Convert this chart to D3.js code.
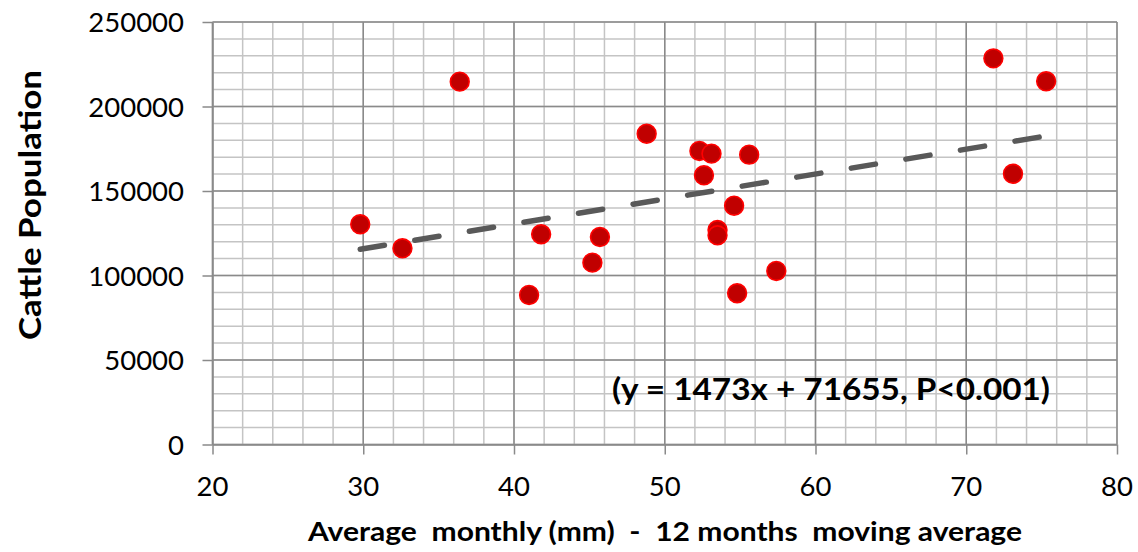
<!DOCTYPE html>
<html>
<head>
<meta charset="utf-8">
<script src="https://cdn.jsdelivr.net/npm/d3@7"></script>
<style>
  html, body { margin: 0; padding: 0; background: #fff; }
  svg { display: block; font-family: Lato, "Open Sans", sans-serif; }
</style>
</head>
<body>
<svg id="chart" width="1138" height="552"></svg>
<script>
// Rainfall (12-month moving average, mm) against cattle population
const rainfall = [29.8, 32.6, 36.4, 41.0, 41.8, 45.2, 45.7, 48.8, 52.3, 52.6,
                  53.1, 53.5, 53.5, 54.6, 54.8, 55.6, 57.4, 71.8, 73.1, 75.3];
const cattle   = [130300, 116100, 214700, 88500, 124400, 107600, 122800, 183900, 173700, 159300,
                  172100, 126900, 123800, 141300, 89500, 171500, 102700, 228500, 160200, 214900];

// Linear fit reported on the chart
const slope = 1473;
const intercept = 71655;

const xTicks = [20, 30, 40, 50, 60, 70, 80];
const yTicks = [0, 50000, 100000, 150000, 200000, 250000];
const xMinorTicks = d3.range(20, 80.01, 2);
const yMinorTicks = d3.range(0, 250001, 10000);

const svg = d3.select("#chart");
const plotLeft = 212.5, plotRight = 1117, plotTop = 22, plotBottom = 444.5;

const x = d3.scaleLinear().domain([20, 80]).range([plotLeft, plotRight]);
const y = d3.scaleLinear().domain([0, 250000]).range([plotBottom, plotTop]);

// Minor grid
const grid = svg.append("g");
grid.append("g").selectAll("line").data(xMinorTicks).join("line")
  .attr("x1", d => x(d)).attr("x2", d => x(d))
  .attr("y1", plotTop).attr("y2", plotBottom)
  .attr("stroke", "#c4c4c4").attr("stroke-width", 1.5);
grid.append("g").selectAll("line").data(yMinorTicks).join("line")
  .attr("x1", plotLeft).attr("x2", plotRight)
  .attr("y1", d => y(d)).attr("y2", d => y(d))
  .attr("stroke", "#c4c4c4").attr("stroke-width", 1.5);

// Major grid
grid.append("g").selectAll("line").data(xTicks).join("line")
  .attr("x1", d => x(d)).attr("x2", d => x(d))
  .attr("y1", plotTop).attr("y2", plotBottom)
  .attr("stroke", "#8a8a8a").attr("stroke-width", 1.5);
grid.append("g").selectAll("line").data(yTicks).join("line")
  .attr("x1", plotLeft).attr("x2", plotRight)
  .attr("y1", d => y(d)).attr("y2", d => y(d))
  .attr("stroke", "#8a8a8a").attr("stroke-width", 1.5);

// Axes with outward tick marks
const xAxis = d3.axisBottom(x).tickValues(xTicks).tickSize(10).tickSizeOuter(0).tickFormat("");
const yAxis = d3.axisLeft(y).tickValues(yTicks).tickSize(10).tickSizeOuter(0).tickFormat("");
const gx = svg.append("g").attr("transform", `translate(0,${plotBottom})`).call(xAxis);
const gy = svg.append("g").attr("transform", `translate(${plotLeft},0)`).call(yAxis);
[gx, gy].forEach(g => {
  g.select(".domain").attr("stroke", "#8a8a8a").attr("stroke-width", 1.5);
  g.selectAll(".tick line").attr("stroke", "#8a8a8a").attr("stroke-width", 1.5);
});

// Tick labels
svg.append("g").selectAll("text").data(xTicks).join("text")
  .attr("x", d => x(d)).attr("y", 496)
  .attr("text-anchor", "middle")
  .attr("font-size", 27.5).attr("fill", "#000")
  .text(d => d);
svg.append("g").selectAll("text").data(yTicks).join("text")
  .attr("x", 184).attr("y", d => y(d) + 10)
  .attr("text-anchor", "end")
  .attr("font-size", 27.5).attr("fill", "#000")
  .text(d => d);

// Scatter points
svg.append("g").selectAll("circle").data(rainfall).join("circle")
  .attr("cx", d => x(d))
  .attr("cy", (d, i) => y(cattle[i]))
  .attr("r", 9.4)
  .attr("fill", "#c00000")
  .attr("stroke", "#ff0000")
  .attr("stroke-width", 1.6);

// Dashed trend line across the data range
const xLo = d3.min(rainfall), xHi = d3.max(rainfall);
svg.append("line")
  .attr("x1", x(xLo)).attr("y1", y(slope * xLo + intercept))
  .attr("x2", x(xHi)).attr("y2", y(slope * xHi + intercept))
  .attr("stroke", "#595959")
  .attr("stroke-width", 5.5)
  .attr("stroke-linecap", "round")
  .attr("stroke-dasharray", "24.5 30.8");

// Regression annotation
svg.append("text")
  .attr("x", 612).attr("y", 400)
  .attr("font-size", 31).attr("font-weight", "bold").attr("fill", "#000")
  .attr("textLength", 438).attr("lengthAdjust", "spacingAndGlyphs")
  .text("(y = 1473x + 71655, P<0.001)");

// Axis titles
svg.append("text")
  .attr("x", 308).attr("y", 541)
  .attr("font-size", 27).attr("font-weight", "bold").attr("fill", "#000")
  .style("white-space", "pre")
  .attr("textLength", 714).attr("lengthAdjust", "spacingAndGlyphs")
  .text("Average  monthly (mm)  -  12 months  moving average");

svg.append("text")
  .attr("transform", "translate(41,205) rotate(-90)")
  .attr("text-anchor", "middle")
  .attr("font-size", 31).attr("font-weight", "bold").attr("fill", "#000")
  .attr("textLength", 270).attr("lengthAdjust", "spacingAndGlyphs")
  .text("Cattle Population");
</script>
</body>
</html>
